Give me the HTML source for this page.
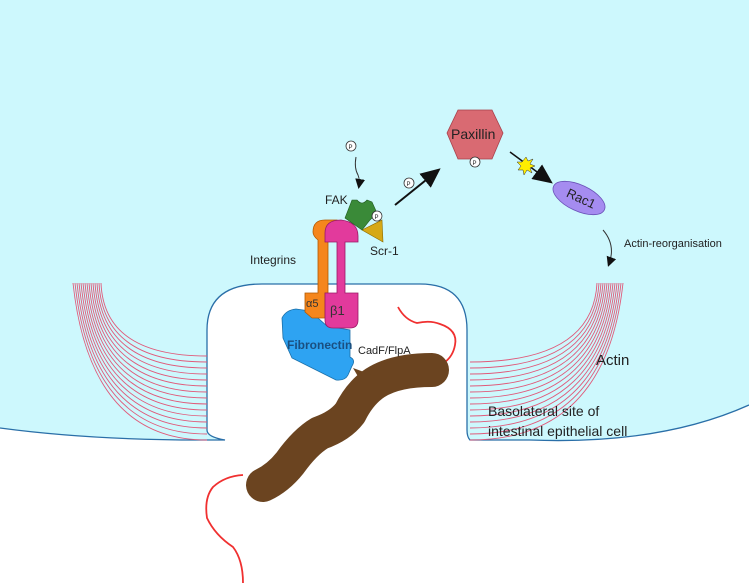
<!DOCTYPE html>
<html><head><meta charset="utf-8"><style>
html,body{margin:0;padding:0;background:#fff;}
svg{display:block;}
text{font-family:"Liberation Sans","DejaVu Sans",sans-serif;fill:#222;}
</style></head><body>
<svg width="749" height="584" viewBox="0 0 749 584" xmlns="http://www.w3.org/2000/svg">
<defs>
<marker id="ah" markerWidth="10" markerHeight="10" refX="7" refY="5" orient="auto" markerUnits="userSpaceOnUse"><path d="M0,0 L10,5 L0,10 Z" fill="#111"/></marker>
<marker id="ahb" markerWidth="20" markerHeight="18" refX="14" refY="9" orient="auto" markerUnits="userSpaceOnUse"><path d="M0,0 L20,9 L0,18 Z" fill="#111"/></marker>
</defs>
<path d="M0,0 H749 V405 Q660,445 530,440 L470,440 Q467,437 467,430 V330 Q467,284 420,284 H262 Q207,284 207,330 V430 Q207,437 225,440 L200,440 Q90,440 0,428 Z" fill="#cdf8fd"/>
<path d="M749,405 Q660,445 530,440 L470,440 Q467,437 467,430 V330 Q467,284 420,284 H262 Q207,284 207,330 V430 Q207,437 225,440 L200,440 Q90,440 0,428" fill="none" stroke="#2a6fa8" stroke-width="1.3"/>
<g stroke="#e05a7a" stroke-width="0.9" fill="none">
<path d="M73,283 Q90,440 207,440"/><path d="M75,283 Q91,434 207,434"/><path d="M77,283 Q92,428 207,428"/><path d="M79,283 Q93,422 207,422"/><path d="M81,283 Q94,416 207,416"/><path d="M83,283 Q95,410 207,410"/><path d="M85,283 Q96,404 207,404"/><path d="M87,283 Q97,398 207,398"/><path d="M89,283 Q98,392 207,392"/><path d="M91,283 Q99,386 207,386"/><path d="M93,283 Q100,380 207,380"/><path d="M95,283 Q101,374 207,374"/><path d="M97,283 Q102,368 207,368"/><path d="M99,283 Q103,362 207,362"/><path d="M101,283 Q104,356 207,356"/>
</g>
<g stroke="#e05a7a" stroke-width="0.9" fill="none">
<path d="M623,283 Q606,440 470,440"/><path d="M621,283 Q605,434 470,434"/><path d="M619,283 Q604,428 470,428"/><path d="M617,283 Q603,422 470,422"/><path d="M615,283 Q602,416 470,416"/><path d="M613,283 Q601,410 470,410"/><path d="M611,283 Q600,404 470,404"/><path d="M609,283 Q599,398 470,398"/><path d="M607,283 Q598,392 470,392"/><path d="M605,283 Q597,386 470,386"/><path d="M603,283 Q596,380 470,380"/><path d="M601,283 Q595,374 470,374"/><path d="M599,283 Q594,368 470,368"/><path d="M597,283 Q593,362 470,362"/>
</g>
<path d="M398,307 Q405,320 417,323 Q430,320 440,324 Q458,330 455,345 Q453,356 445,362" fill="none" stroke="#f03030" stroke-width="1.8"/>
<path d="M243,475 Q225,476 213,487 Q204,498 207,518 Q215,535 233,547 Q243,560 243,583" fill="none" stroke="#f03030" stroke-width="1.8"/>
<path d="M263,485 Q278,478 290,463 Q305,442 320,433 Q340,426 350,413 Q360,393 375,383 Q395,370 432,370" fill="none" stroke="#6b4420" stroke-width="34" stroke-linecap="round" stroke-linejoin="round"/>
<polygon points="353,368 375,376 366,390" fill="#6b4420"/>
<path d="M282,318 Q286,310 296,309 L310,311 L327,326 L350,330 L350,357 Q356,360 352,366 L348,375 Q345,381 336,380 L292,358 L283,338 Z" fill="#2ea3f2" stroke="#1b6fa8" stroke-width="0.8"/>
<text x="287" y="349" font-size="12" font-weight="bold" style="fill:#1a4f80">Fibronectin</text>
<text x="358" y="354" font-size="11">CadF/FlpA</text>
<path d="M313,232 Q313,220 325,220 L337,220 L337,232 L328,240 L328,293 L325,293 L325,318 L312,318 L305,312 L305,293 L318,293 L318,240 Q313,236 313,232 Z" fill="#f5861c" stroke="#b35a00" stroke-width="0.8"/>
<text x="306" y="307" font-size="11" style="fill:#333">α5</text>
<path d="M325,242 L325,233 Q325,220 341,220 Q358,222 358,236 L358,242 L345,242 L345,293 L358,293 L358,320 Q358,328 350,328 L333,328 Q325,328 325,320 L325,293 L337,293 L337,242 Z" fill="#e23a9c" stroke="#9a1a66" stroke-width="0.8"/>
<text x="330" y="315" font-size="13" style="fill:#333">β1</text>
<polygon points="362,230 382,220 383,242" fill="#d6a815" stroke="#8a6a00" stroke-width="0.6"/>
<path d="M345,218 L352,200 L357,200 Q362,206 367,200 L372,202 L377,213 L370,220 L362,230 Z" fill="#3a8a38" stroke="#205a20" stroke-width="0.6"/>
<circle cx="377" cy="216" r="5" fill="#fff" stroke="#333" stroke-width="0.8"/><text x="374.5" y="219" font-size="6">P</text>
<text x="325" y="204" font-size="12">FAK</text>
<text x="370" y="255" font-size="12">Scr-1</text>
<text x="250" y="264" font-size="12">Integrins</text>
<circle cx="351" cy="146" r="5" fill="#fff" stroke="#333" stroke-width="0.8"/><text x="348.5" y="149" font-size="6">P</text>
<path d="M356,157 Q354,168 358,175 Q360,180 359,186" fill="none" stroke="#333" stroke-width="1" marker-end="url(#ah)"/>
<path d="M395,205 L436,172" stroke="#111" stroke-width="2" marker-end="url(#ahb)"/>
<circle cx="409" cy="183" r="5" fill="#fff" stroke="#333" stroke-width="0.8"/><text x="406.5" y="186" font-size="6">P</text>
<polygon points="447,133 458,110 492,110 503,133 492,159 458,159" fill="#d96a72" stroke="#a8414b" stroke-width="0.8"/>
<text x="451" y="139" font-size="14">Paxillin</text>
<circle cx="475" cy="162" r="5" fill="#fff" stroke="#333" stroke-width="0.8"/><text x="472.5" y="165" font-size="6">P</text>
<path d="M510,152 L548,180" stroke="#111" stroke-width="1.5" marker-end="url(#ahb)"/>
<polygon points="526,157 528,161 533,159 530,164 535,166 530,168 532,173 527,170 524,175 523,170 518,170 521,166 517,162 522,162" fill="#ffee00" stroke="#333" stroke-width="0.5"/>
<ellipse cx="579" cy="198" rx="28" ry="13" transform="rotate(25 579 198)" fill="#a58cf0" stroke="#6a52b8" stroke-width="0.8"/>
<text x="566" y="202" font-size="13" transform="rotate(25 579 198)">Rac1</text>
<path d="M603,230 Q616,245 609,264" fill="none" stroke="#333" stroke-width="1" marker-end="url(#ah)"/>
<text x="624" y="247" font-size="11">Actin-reorganisation</text>
<text x="596" y="365" font-size="15">Actin</text>
<text x="488" y="416" font-size="14">Basolateral site of</text>
<text x="488" y="436" font-size="14">intestinal epithelial cell</text>
</svg>
</body></html>
